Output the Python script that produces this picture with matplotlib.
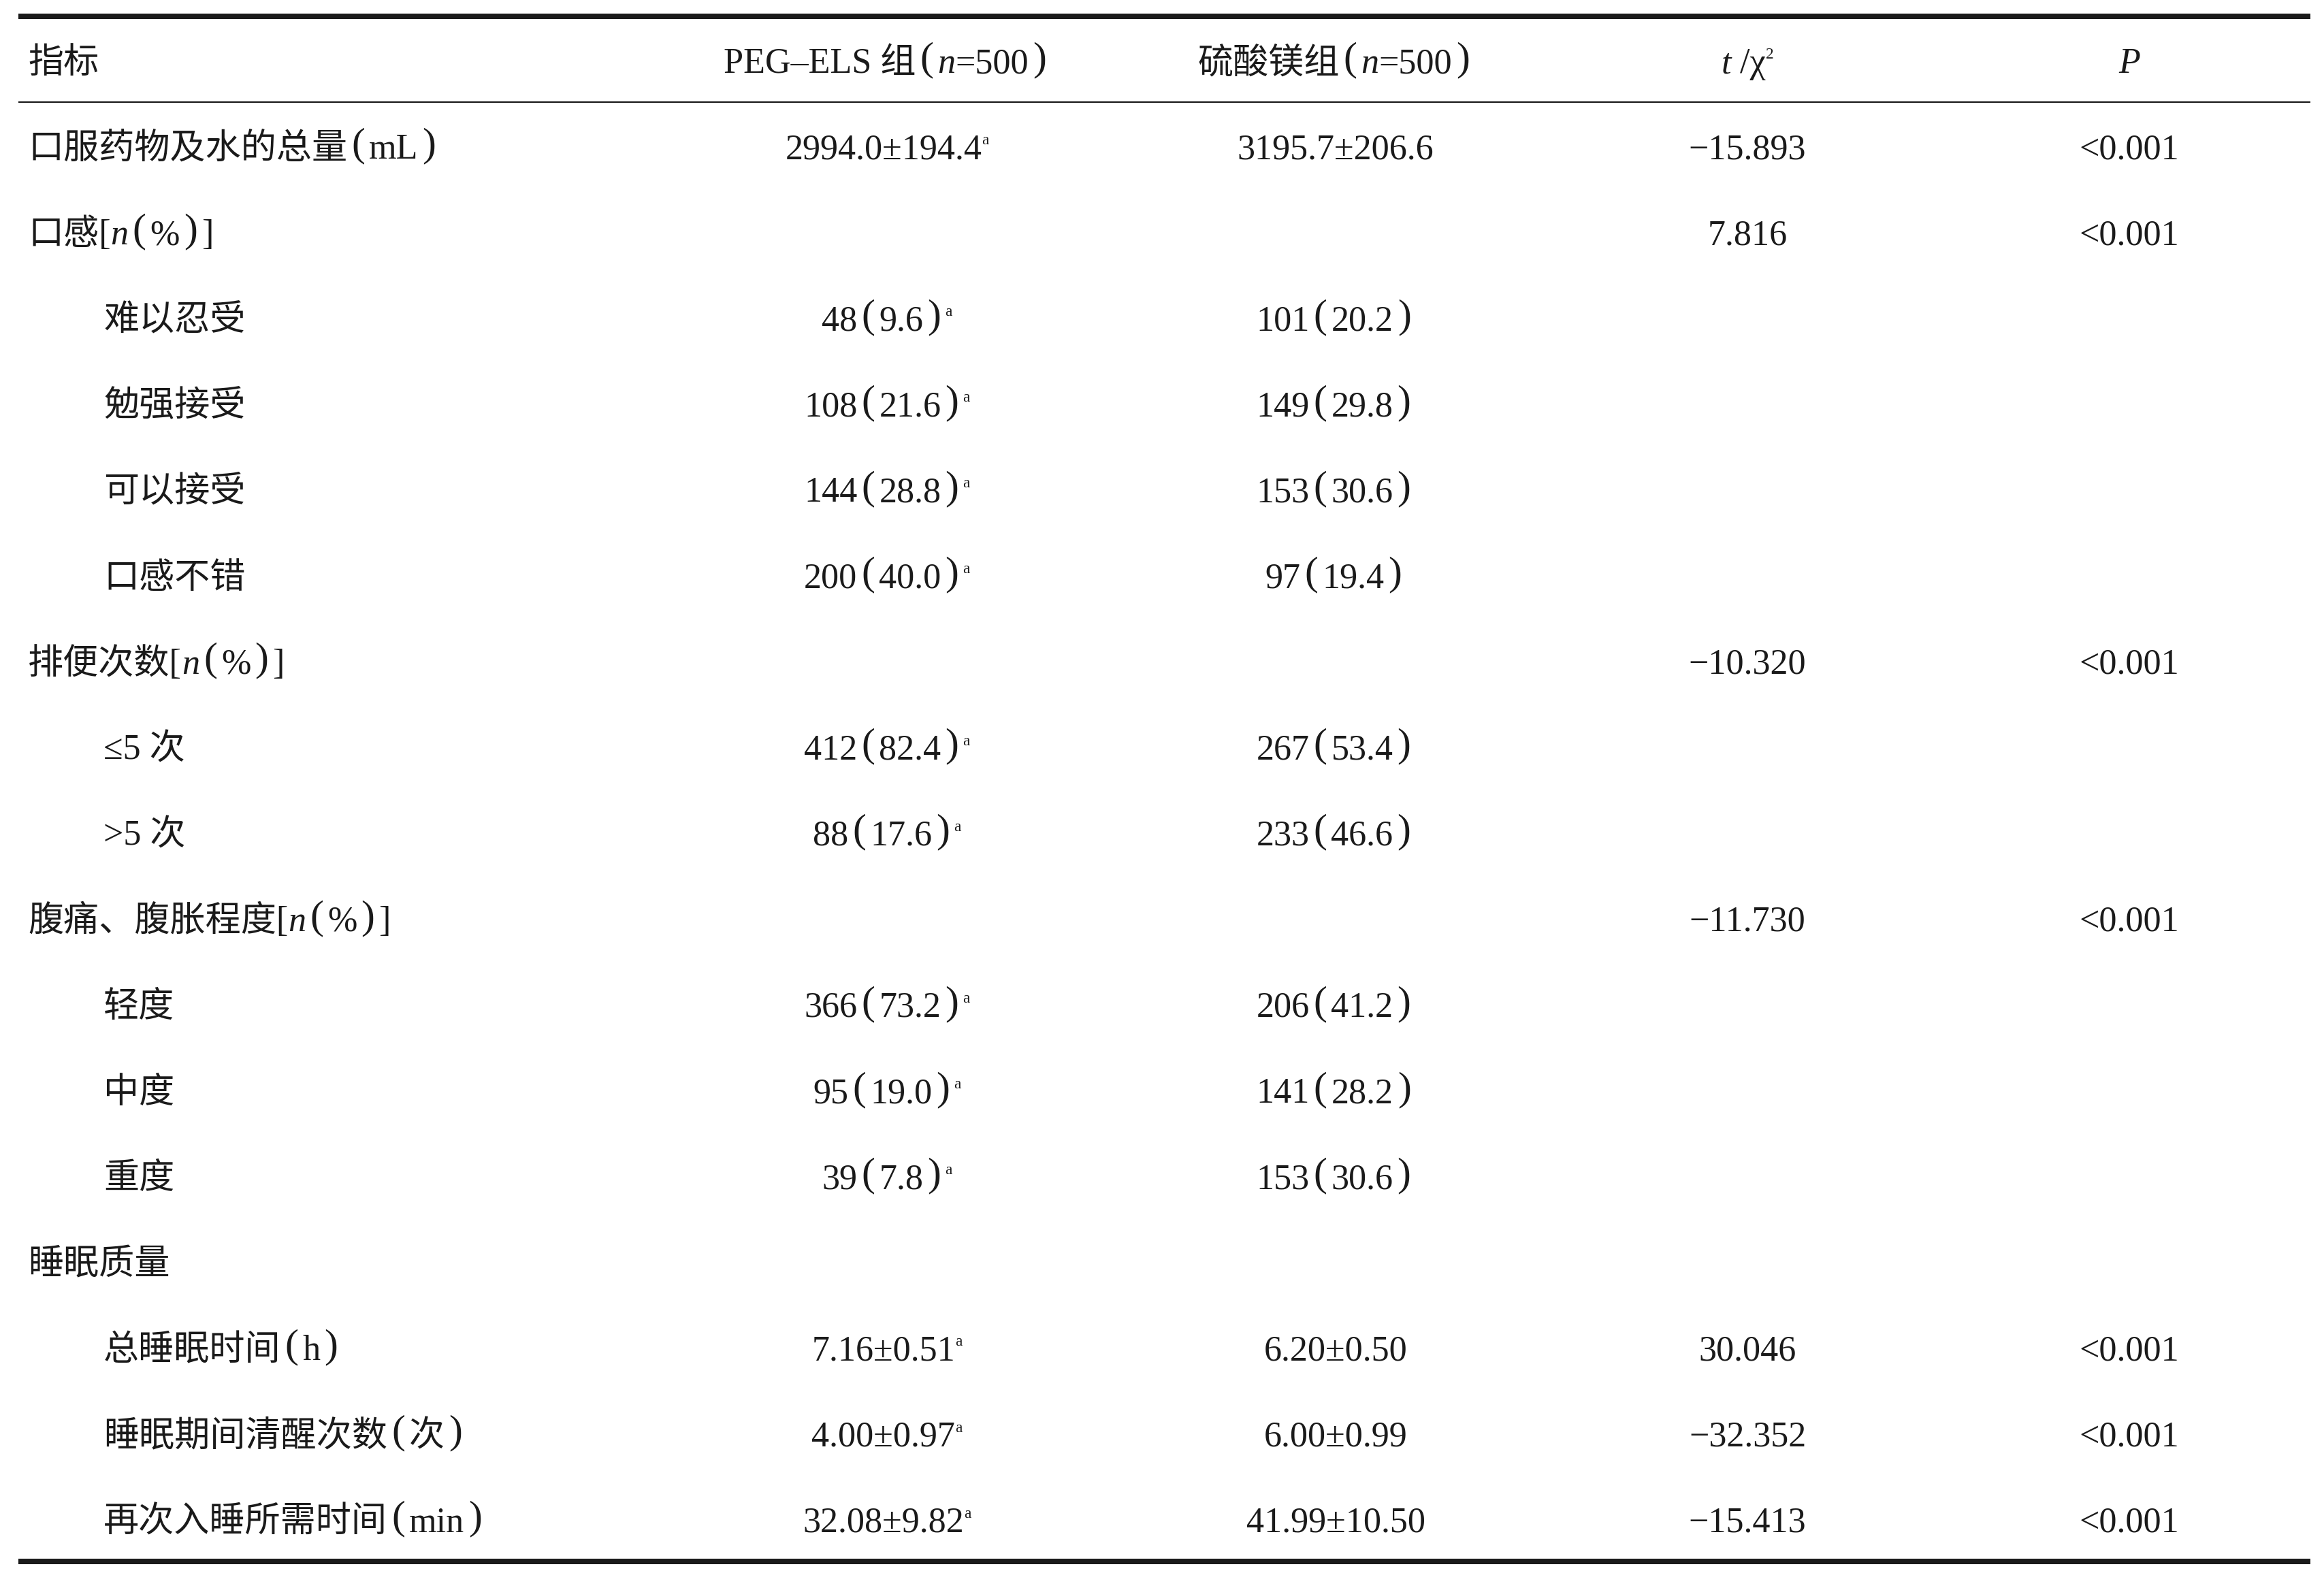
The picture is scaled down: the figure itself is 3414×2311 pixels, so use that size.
import re
import matplotlib
matplotlib.use("Agg")
import matplotlib.pyplot as plt

# 表格内容  (_x_ = 斜体, ^x^ = 上标)
headers = ["指标", "PEG–ELS 组（_n_=500）", "硫酸镁组（_n_=500）", "_t_ /χ^2^", "_P_"]

labels = ["口服药物及水的总量（mL）", "口感[_n_（%）]", "难以忍受", "勉强接受", "可以接受", "口感不错",
          "排便次数[_n_（%）]", "≤5 次", ">5 次", "腹痛、腹胀程度[_n_（%）]", "轻度", "中度", "重度",
          "睡眠质量", "总睡眠时间（h）", "睡眠期间清醒次数（次）", "再次入睡所需时间（min）"]
indent = [0, 0, 1, 1, 1, 1, 0, 1, 1, 0, 1, 1, 1, 0, 1, 1, 1]

peg = ["2994.0±194.4^a^", "", "48（9.6）^a^", "108（21.6）^a^", "144（28.8）^a^", "200（40.0）^a^", "",
       "412（82.4）^a^", "88（17.6）^a^", "", "366（73.2）^a^", "95（19.0）^a^", "39（7.8）^a^", "",
       "7.16±0.51^a^", "4.00±0.97^a^", "32.08±9.82^a^"]
mgso4 = ["3195.7±206.6", "", "101（20.2）", "149（29.8）", "153（30.6）", "97（19.4）", "",
         "267（53.4）", "233（46.6）", "", "206（41.2）", "141（28.2）", "153（30.6）", "",
         "6.20±0.50", "6.00±0.99", "41.99±10.50"]
stat = ["−15.893", "7.816", "", "", "", "", "−10.320", "", "", "−11.730", "", "", "", "",
        "30.046", "−32.352", "−15.413"]
pval = ["<0.001", "<0.001", "", "", "", "", "<0.001", "", "", "<0.001", "", "", "", "",
        "<0.001", "<0.001", "<0.001"]

W, H = 3414, 2311
FAM = ['Liberation Serif', 'Noto Sans CJK SC']
FS = 37.5
INK = '#1a1a1a'
PAD = 6  # espace autour des parenthèses

fig = plt.figure(figsize=(W / 100, H / 100), dpi=100)
ax = fig.add_axes([0, 0, 1, 1])
ax.set_xlim(0, W)
ax.set_ylim(H, 0)
ax.axis('off')
renderer = fig.canvas.get_renderer()


def pieces(s):
    out = []
    for tok in re.split(r'(_[^_]+_|\^[^^]+\^|（|）)', s):
        if not tok:
            continue
        if tok[0] == '_':
            out.append((tok[1:-1], 'i'))
        elif tok[0] == '^':
            out.append((tok[1:-1], 's'))
        elif tok == '（':
            out.append(('(', 'p'))
        elif tok == '）':
            out.append((')', 'p'))
        else:
            out.append((tok, 'n'))
    return out


def rich(x, y, s, ha='left'):
    # y = ligne de base, en pixels
    items = []
    for seg, kind in pieces(s):
        size = {'s': FS * 0.45, 'p': FS * 1.15}.get(kind, FS)
        dy = {'s': -21, 'p': -5}.get(kind, 0)
        t = ax.text(0, y + dy, seg, fontsize=size, family=FAM,
                    style='italic' if kind == 'i' else 'normal', color=INK,
                    ha='left', va='baseline')
        w = t.get_window_extent(renderer).width
        pad = PAD if kind == 'p' else 0
        items.append((t, w, pad))
    total = sum(w + 2 * p for _, w, p in items)
    cx = x - total / 2 if ha == 'center' else x
    for t, w, p in items:
        t.set_x(cx + p)
        cx += w + 2 * p


col_x = [41, 1303, 1962, 2567, 3128]
col_ha = ['left', 'center', 'center', 'center', 'center']

# lignes du tableau
ax.plot([27, 3394], [24, 24], color=INK, lw=5.8, solid_capstyle='butt')
ax.plot([27, 3394], [150, 150], color=INK, lw=1.6, solid_capstyle='butt')
ax.plot([27, 3394], [2294, 2294], color=INK, lw=5.8, solid_capstyle='butt')

for j, h in enumerate(headers):
    rich(col_x[j], 107, h, col_ha[j])

step = 126.1
for i in range(len(labels)):
    yb = 233 + i * step
    rich(col_x[0] + 111 * indent[i], yb, labels[i])
    for j, col in enumerate([peg, mgso4, stat, pval], start=1):
        if col[i]:
            rich(col_x[j], yb, col[i], 'center')

fig.savefig("out.png", dpi=100, facecolor='white')
